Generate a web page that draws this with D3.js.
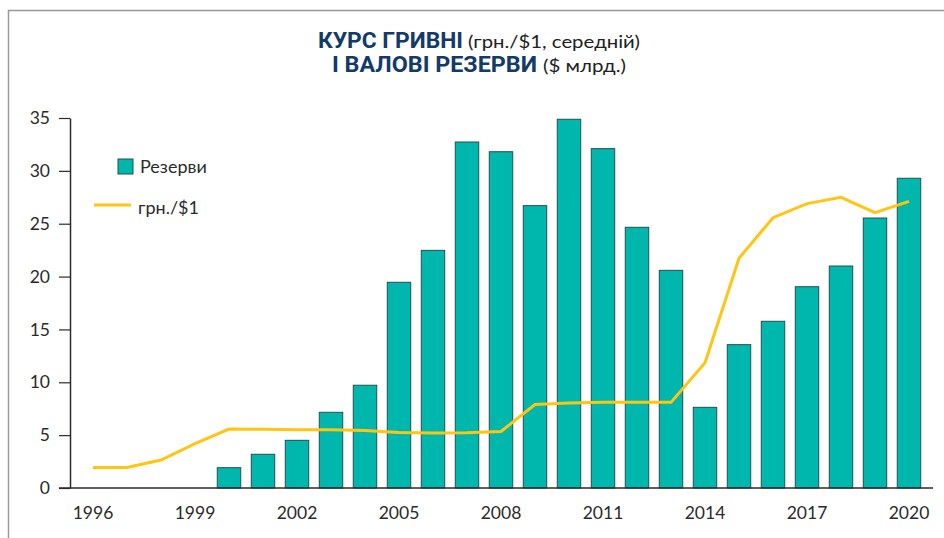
<!DOCTYPE html>
<html>
<head>
<meta charset="utf-8">
<script src="https://d3js.org/d3.v7.min.js"></script>
<style>
  body { margin: 0; background: #fff; }
  svg text { font-family: Lato, "Open Sans", sans-serif; fill: #2b2b2b; }
</style>
</head>
<body>
<div id="chart"></div>
<script>

// data
var years = d3.range(1996, 2021);
var reserves = [null, null, null, null, 1.92, 3.19, 4.51, 7.16, 9.72, 19.46, 22.48,
                32.73, 31.81, 26.71, 34.88, 32.1, 24.66, 20.59, 7.63, 13.56, 15.77,
                19.04, 21.0, 25.54, 29.3];
var uahRate = [1.95, 1.95, 2.65, 4.2, 5.58, 5.55, 5.52, 5.5, 5.45, 5.25, 5.2,
               5.22, 5.35, 7.9, 8.05, 8.1, 8.1, 8.1, 11.85, 21.73, 25.57,
               26.9, 27.5, 26.05, 27.12];
var yTicks = [0, 5, 10, 15, 20, 25, 30, 35];
var xTickYears = [1996, 1999, 2002, 2005, 2008, 2011, 2014, 2017, 2020];

var W = 944, H = 538;
var teal = "#00b7ad", gold = "#ffc512", navy = "#133a68";

var svg = d3.select("#chart").append("svg")
    .attr("width", W)
    .attr("height", H);

// frame (top + left edges visible)
svg.append("path")
    .attr("d", "M8.5,538 V10.5 H944")
    .attr("fill", "none")
    .attr("stroke", "#9a9a9a")
    .attr("stroke-width", 1.5);

// title
var t1 = svg.append("text").attr("x", 318).attr("y", 48);
t1.append("tspan").text("КУРС ГРИВНІ")
    .style("font-family", "Roboto, sans-serif").style("font-weight", 700)
    .style("font-size", "22px").style("fill", navy)
    .attr("textLength", 145).attr("lengthAdjust", "spacingAndGlyphs");
t1.append("tspan").attr("x", 468).text("(грн./$1, середній)")
    .style("font-size", "18px").style("fill", "#222")
    .attr("textLength", 172).attr("lengthAdjust", "spacingAndGlyphs");

var t2 = svg.append("text").attr("x", 332).attr("y", 72);
t2.append("tspan").text("І ВАЛОВІ РЕЗЕРВИ")
    .style("font-family", "Roboto, sans-serif").style("font-weight", 700)
    .style("font-size", "22px").style("fill", navy)
    .attr("textLength", 205).attr("lengthAdjust", "spacingAndGlyphs");
t2.append("tspan").attr("x", 543).text("($ млрд.)")
    .style("font-size", "18px").style("fill", "#222")
    .attr("textLength", 83).attr("lengthAdjust", "spacingAndGlyphs");

// scales
var x = d3.scaleBand()
    .domain(years)
    .range([76, 926])
    .paddingInner(0.31)
    .paddingOuter(0.155);

var y = d3.scaleLinear()
    .domain([0, 35])
    .range([488, 118]);

var cx = function(yr) { return x(yr) + x.bandwidth() / 2; };

// bars
svg.append("g").selectAll("rect")
    .data(years.map(function(d, i) { return { year: d, v: reserves[i] }; })
               .filter(function(d) { return d.v != null; }))
  .enter().append("rect")
    .attr("x", function(d) { return x(d.year); })
    .attr("y", function(d) { return y(d.v); })
    .attr("width", x.bandwidth())
    .attr("height", function(d) { return y(0) - y(d.v); })
    .attr("fill", teal)
    .attr("stroke", "#23514f")
    .attr("stroke-width", 1);

// y axis
var yAxis = svg.append("g")
    .attr("transform", "translate(70,0)")
    .call(d3.axisLeft(y).tickValues(yTicks).tickSize(11).tickSizeOuter(0).tickPadding(9));
yAxis.select(".domain").attr("stroke", "#2b2b2b").attr("stroke-width", 1.5);
yAxis.selectAll(".tick line").attr("stroke", "#2b2b2b").attr("stroke-width", 1.2);
yAxis.selectAll(".tick text")
    .style("font-size", "17.5px")
    .style("font-family", "Lato, sans-serif")
    .attr("fill", "#2b2b2b");

// x baseline
svg.append("line")
    .attr("x1", 59).attr("x2", 933)
    .attr("y1", y(0)).attr("y2", y(0))
    .attr("stroke", "#2b2b2b")
    .attr("stroke-width", 1.5);

// x axis labels
var xAxis = svg.append("g")
    .attr("transform", "translate(0," + y(0) + ")")
    .call(d3.axisBottom(x).tickValues(xTickYears).tickSize(0).tickPadding(19));
xAxis.select(".domain").remove();
xAxis.selectAll(".tick text")
    .style("font-size", "17.5px")
    .style("font-family", "Lato, sans-serif")
    .attr("fill", "#2b2b2b");

// exchange rate line
svg.append("path")
    .datum(years.map(function(d, i) { return { year: d, v: uahRate[i] }; }))
    .attr("fill", "none")
    .attr("stroke", gold)
    .attr("stroke-width", 3)
    .attr("stroke-linejoin", "miter")
    .attr("d", d3.line()
      .x(function(d) { return cx(d.year); })
      .y(function(d) { return y(d.v); }));

// legend
svg.append("rect")
    .attr("x", 118).attr("y", 159)
    .attr("width", 15).attr("height", 15)
    .attr("fill", teal)
    .attr("stroke", "#23514f");
svg.append("text")
    .attr("x", 140).attr("y", 173)
    .style("font-size", "18px")
    .text("Резерви");
svg.append("line")
    .attr("x1", 94).attr("x2", 131)
    .attr("y1", 205).attr("y2", 205)
    .attr("stroke", gold)
    .attr("stroke-width", 3);
svg.append("text")
    .attr("x", 138).attr("y", 214)
    .style("font-size", "18px")
    .text("грн./$1");

</script>
</body>
</html>
